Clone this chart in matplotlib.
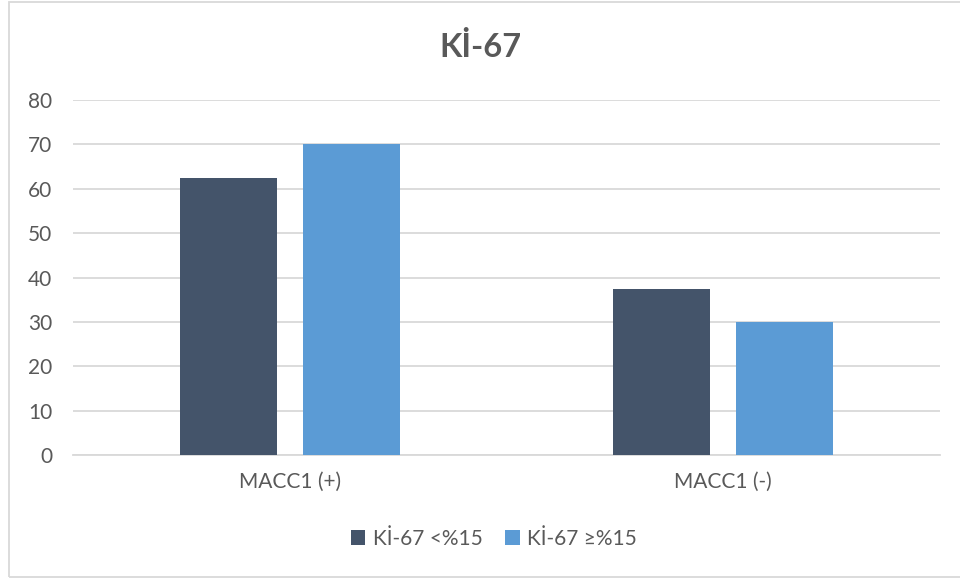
import matplotlib.pyplot as plt
import numpy as np
from matplotlib.patches import Rectangle

# Veriler
kategoriler = ["MACC1 (+)", "MACC1 (-)"]
ki67_dusuk = [62.5, 37.5]
ki67_yuksek = [70, 30]
seri_adlari = ["Kİ-67 <%15", "Kİ-67 ≥%15"]
y_ticks = [0, 10, 20, 30, 40, 50, 60, 70, 80]

plt.rcParams['font.family'] = ['Lato', 'DejaVu Sans']

fig = plt.figure(figsize=(9.6, 5.79), dpi=100)
ax = fig.add_axes([73 / 960, 1 - 455 / 579, 867 / 960, 355 / 579])

x = np.arange(len(kategoriler))
genislik = 0.224
ax.bar(x - 0.1415, ki67_dusuk, genislik, color='#44546A', label=seri_adlari[0], zorder=3)
ax.bar(x + 0.1415, ki67_yuksek, genislik, color='#5B9BD5', label=seri_adlari[1], zorder=3)

ax.set_xlim(-0.5, 1.5)
ax.set_ylim(0, 80)
ax.set_yticks(y_ticks)
ax.set_xticks(x)
ax.set_xticklabels(kategoriler)
ax.tick_params(axis='both', length=0, labelsize=15, colors='#595959')
ax.tick_params(axis='y', pad=15)
ax.tick_params(axis='x', pad=12)
ax.grid(axis='y', color='#D9D9D9', linewidth=1.3, zorder=0)
for s in ['top', 'right', 'left']:
    ax.spines[s].set_visible(False)
ax.spines['bottom'].set_color('#D9D9D9')
ax.spines['bottom'].set_linewidth(1.3)

fig.text(0.5, 1 - 47 / 579, "Kİ-67", ha='center', va='center',
         fontsize=23.5, fontweight='bold', color='#595959')

fig.legend(loc='center', bbox_to_anchor=(494 / 960, 1 - 539 / 579), ncol=2, frameon=False,
           fontsize=15, labelcolor='#595959', handlelength=0.7, handleheight=0.7,
           handletextpad=0.35, columnspacing=1.1)

# Çerçeve
fig.patches.append(Rectangle((9 / 960, 1 - 577 / 579), 1.0, 575 / 579,
                             transform=fig.transFigure, fill=False,
                             edgecolor='#D9D9D9', linewidth=1.3))

fig.savefig("out.png", dpi=100)
